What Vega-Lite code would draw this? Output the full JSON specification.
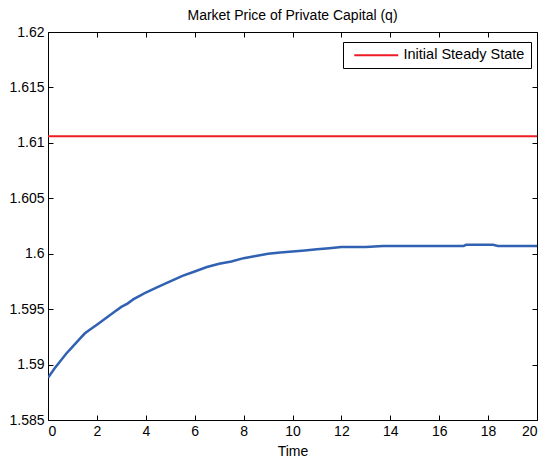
{
  "$schema": "https://vega.github.io/schema/vega-lite/v6.json",
  "width": 489,
  "height": 388,
  "autosize": "none",
  "padding": {"left": 48, "top": 32, "right": 8, "bottom": 40},
  "background": "white",
  "title": {
    "text": "Market Price of Private Capital (q)",
    "font": "Liberation Sans",
    "fontSize": 14,
    "fontWeight": "normal",
    "color": "#000000",
    "offset": 2
  },
  "config": {
    "view": {"stroke": "#000000", "strokeWidth": 1},
    "axis": {
      "domain": false,
      "grid": false,
      "tickColor": "#000000",
      "tickSize": -5,
      "labelFont": "Liberation Sans",
      "labelFontSize": 14,
      "labelColor": "#000000",
      "titleFont": "Liberation Sans",
      "titleFontSize": 14,
      "titleFontWeight": "normal",
      "titleColor": "#000000"
    }
  },
  "data": {
    "values": [
      {"t": 0, "q": 1.5888},
      {"t": 0.25, "q": 1.5896},
      {"t": 0.5, "q": 1.5903},
      {"t": 0.75, "q": 1.591},
      {"t": 1, "q": 1.5916},
      {"t": 1.25, "q": 1.5922},
      {"t": 1.5, "q": 1.5928},
      {"t": 1.75, "q": 1.5932},
      {"t": 2, "q": 1.5936},
      {"t": 2.25, "q": 1.594},
      {"t": 2.5, "q": 1.5944},
      {"t": 2.75, "q": 1.5948},
      {"t": 3, "q": 1.5952},
      {"t": 3.25, "q": 1.5955},
      {"t": 3.5, "q": 1.5959},
      {"t": 3.75, "q": 1.5962},
      {"t": 4, "q": 1.5965},
      {"t": 4.5, "q": 1.597},
      {"t": 5, "q": 1.5975},
      {"t": 5.5, "q": 1.598},
      {"t": 6, "q": 1.5984},
      {"t": 6.5, "q": 1.5988},
      {"t": 7, "q": 1.5991},
      {"t": 7.5, "q": 1.5993},
      {"t": 8, "q": 1.5996},
      {"t": 8.5, "q": 1.5998},
      {"t": 9, "q": 1.6},
      {"t": 9.5, "q": 1.6001},
      {"t": 10, "q": 1.6002},
      {"t": 10.5, "q": 1.6003},
      {"t": 11, "q": 1.6004},
      {"t": 11.5, "q": 1.6005},
      {"t": 12, "q": 1.6006},
      {"t": 13, "q": 1.6006},
      {"t": 13.7, "q": 1.6007},
      {"t": 17, "q": 1.6007},
      {"t": 17.1, "q": 1.6008},
      {"t": 18.2, "q": 1.6008},
      {"t": 18.4, "q": 1.6007},
      {"t": 20, "q": 1.6007}
    ]
  },
  "resolve": {"axis": {"x": "independent", "y": "independent"}},
  "layer": [
    {
      "mark": {"type": "line", "color": "#3161b2", "strokeWidth": 2.5, "clip": true},
      "encoding": {
        "x": {
          "field": "t",
          "type": "quantitative",
          "scale": {"domain": [0, 20], "nice": false, "zero": false},
          "axis": {
            "orient": "bottom",
            "values": [0, 2, 4, 6, 8, 10, 12, 14, 16, 18, 20],
            "labelPadding": 9,
            "title": "Time",
            "titlePadding": 6
          }
        },
        "y": {
          "field": "q",
          "type": "quantitative",
          "scale": {"domain": [1.585, 1.62], "nice": false, "zero": false},
          "axis": {
            "orient": "left",
            "values": [1.585, 1.59, 1.595, 1.6, 1.605, 1.61, 1.615, 1.62],
            "format": ".4~g",
            "labelPadding": 9,
            "title": null
          }
        }
      }
    },
    {
      "data": {"values": [{"level": 1.6106, "series": "Initial Steady State"}]},
      "mark": {"type": "rule", "strokeWidth": 2},
      "encoding": {
        "y": {"field": "level", "type": "quantitative", "axis": null},
        "color": {
          "field": "series",
          "type": "nominal",
          "scale": {"range": ["#ee1c25"]},
          "legend": {
            "title": null,
            "orient": "none",
            "legendX": 295,
            "legendY": 10,
            "symbolType": "M-4.4,0H4.4",
            "symbolSize": 100,
            "symbolStrokeWidth": 2,
            "symbolOffset": 20,
            "labelFont": "Liberation Sans",
            "labelFontSize": 14.5,
            "labelColor": "#000000",
            "labelOffset": 20,
            "padding": 6,
            "strokeColor": "#000000",
            "fillColor": "#ffffff"
          }
        }
      }
    },
    {
      "mark": {"type": "line", "opacity": 0},
      "encoding": {
        "x": {
          "field": "t",
          "type": "quantitative",
          "axis": {
            "orient": "top",
            "values": [0, 2, 4, 6, 8, 10, 12, 14, 16, 18, 20],
            "labels": false,
            "title": null
          }
        },
        "y": {
          "field": "q",
          "type": "quantitative",
          "axis": {
            "orient": "right",
            "values": [1.585, 1.59, 1.595, 1.6, 1.605, 1.61, 1.615, 1.62],
            "labels": false,
            "title": null
          }
        }
      }
    }
  ]
}
